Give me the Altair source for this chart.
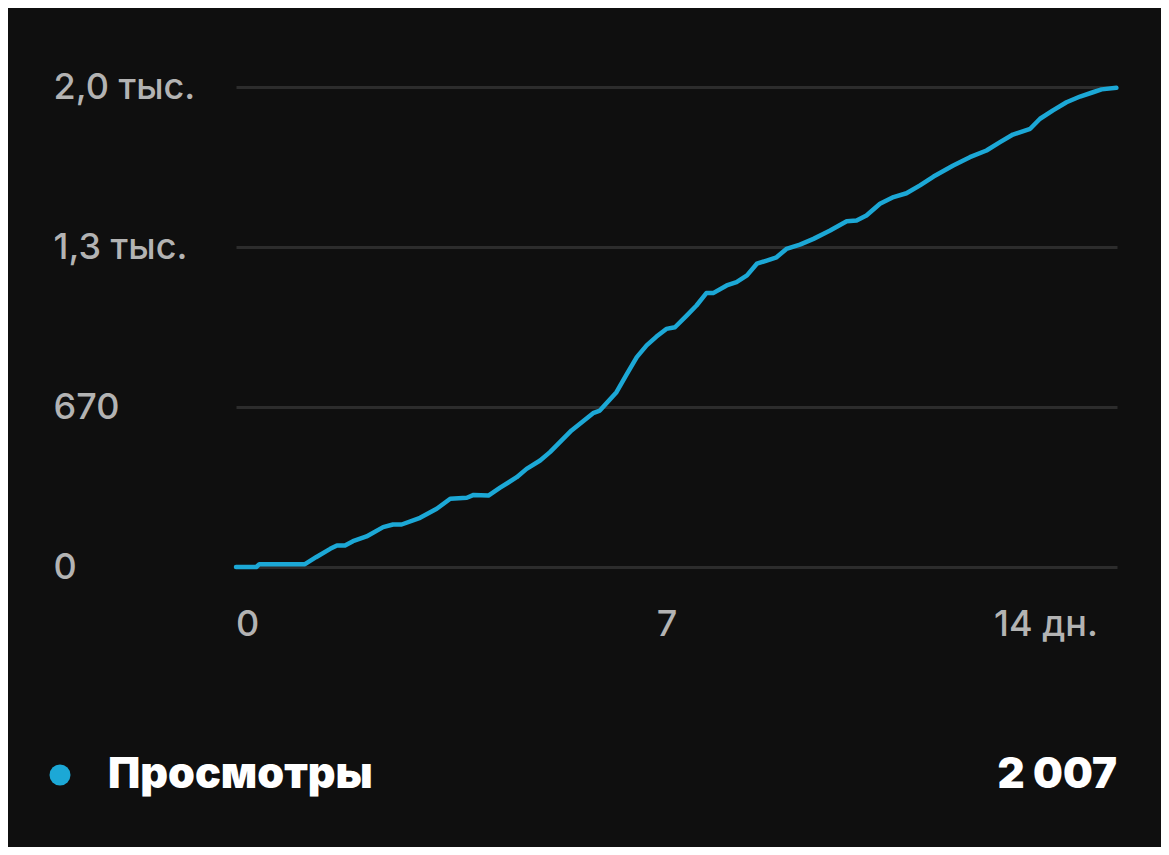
import altair as alt
import pandas as pd

# ---- data ----
days = [0, 0.33, 0.38, 1.12, 1.30, 1.53, 1.64, 1.77, 1.90, 2.12, 2.39, 2.55, 2.69,
        2.99, 3.26, 3.48, 3.75, 3.86, 4.10, 4.29, 4.56, 4.72, 4.94, 5.10, 5.45,
        5.80, 5.91, 6.18, 6.35, 6.51, 6.67, 6.83, 6.99, 7.13, 7.32, 7.48, 7.64,
        7.75, 7.97, 8.13, 8.30, 8.46, 8.62, 8.78, 8.94, 9.16, 9.38, 9.65, 9.92,
        10.08, 10.24, 10.46, 10.68, 10.89, 11.11, 11.33, 11.65, 11.92, 12.19,
        12.41, 12.62, 12.90, 13.06, 13.27, 13.49, 13.71, 13.92, 14.06, 14.30]
views = [0, 0, 12, 12, 41, 76, 90, 90, 108, 128, 167, 178, 178,
         206, 244, 286, 290, 302, 299, 332, 376, 411, 446, 481, 572,
         644, 655, 732, 809, 879, 928, 965, 997, 1004, 1053, 1095, 1147,
         1147, 1179, 1193, 1221, 1270, 1283, 1297, 1332, 1350, 1374, 1409, 1448,
         1451, 1472, 1521, 1549, 1565, 1598, 1635, 1681, 1716, 1744,
         1779, 1811, 1835, 1877, 1912, 1946, 1970, 1988, 2000, 2007]

y_ticks = [0, 670, 1340, 2010]
y_tick_labels = ["0", "670", "1,3 тыс.", "2,0 тыс."]
x_ticks = [0, 7, 14]
x_tick_labels = ["0", "7", "14 дн."]
series_name = "Просмотры"
total_label = "2 007"

# ---- style ----
BG = "#0f0f0f"
LINE = "#1ca8d6"
GRID = "#2c2c2c"
LABEL = "#b3b3b3"
FONT = "Inter"

df = pd.DataFrame({"day": days, "views": views})

label_expr = " : ".join(
    f"datum.value == {v} ? '{t}'" for v, t in zip(y_ticks, y_tick_labels)
) + " : ''"

x_scale = alt.Scale(domain=[0, 14.31], nice=False, zero=False)
y_scale = alt.Scale(domain=[0, 2010], nice=False)

line = alt.Chart(df).mark_line(
    color=LINE, strokeWidth=4.5, strokeCap="round", strokeJoin="round"
).encode(
    x=alt.X("day:Q", scale=x_scale, axis=None),
    y=alt.Y(
        "views:Q",
        scale=y_scale,
        axis=alt.Axis(
            values=y_ticks,
            labelExpr=label_expr,
            grid=True,
            gridColor=GRID,
            gridWidth=3,
            domain=False,
            ticks=False,
            tickSize=0,
            labelPadding=183,
            labelAlign="left",
            labelBaseline="middle",
            labelFont=FONT,
            labelFontSize=36,
            labelFontWeight=500,
            labelColor=LABEL,
            title=None,
        ),
    ),
)

xdf = pd.DataFrame({"day": x_ticks, "label": x_tick_labels})
aligns = ["left", "center", "right"]
x_label_layers = []
for i, al in enumerate(aligns):
    x_label_layers.append(
        alt.Chart(xdf.iloc[[i]]).mark_text(
            align=al, baseline="middle", font=FONT, fontSize=36, fontWeight=500,
            color=LABEL
        ).encode(
            x=alt.X("day:Q", scale=x_scale),
            y=alt.value(538),
            text="label:N",
        )
    )

ldf = pd.DataFrame({"name": [series_name], "total": [total_label]})
dot = alt.Chart(ldf).mark_circle(color=LINE, opacity=1, size=440).encode(
    x=alt.value(-176), y=alt.value(688)
)
name_text = alt.Chart(ldf).mark_text(
    align="left", baseline="middle", font=FONT, fontSize=43, fontWeight=900,
    color="#ffffff"
).encode(x=alt.value(-128), y=alt.value(688), text="name:N")
total_text = alt.Chart(ldf).mark_text(
    align="right", baseline="middle", font=FONT, fontSize=42, fontWeight=900,
    color="#ffffff"
).encode(x=alt.value(881), y=alt.value(688), text="total:N")

chart = alt.layer(line, *x_label_layers, dot, name_text, total_text).properties(
    width=881,
    height=480,
    padding={"left": 228, "top": 79, "right": 44, "bottom": 280},
    autosize=alt.AutoSizeParams(type="none"),
    background=BG,
).configure_view(stroke=None)

chart.save("out.html", embed_options={"renderer": "svg", "actions": False})
